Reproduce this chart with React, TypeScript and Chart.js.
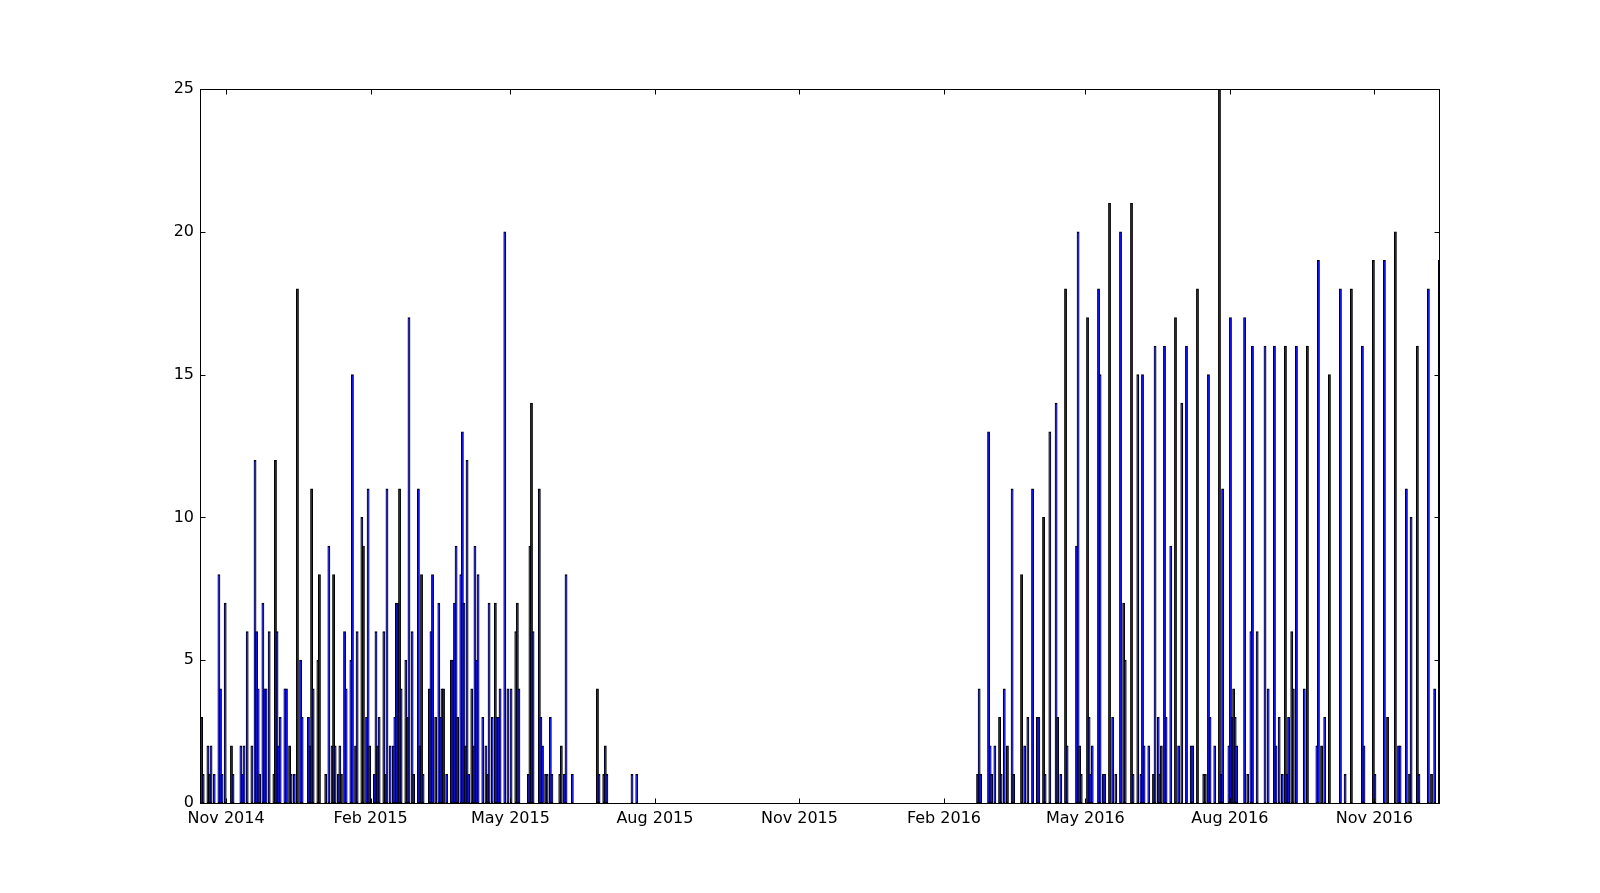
import React, { useEffect, useRef } from 'react';
import { Chart, registerables } from 'chart.js';

Chart.register(...registerables);

// Days counted from 2014-11-01 (day 0); bars are left-aligned on their day.
const days2014to2015 = [
  -16, -15, -12, -11, -10, -8, -5, -4, -3, -1, 3, 4, 9, 10, 11, 13, 16, 18, 19, 20,
  21, 23, 24, 25, 27, 30, 31, 32, 33, 34, 37, 38, 40, 41, 43, 45, 47, 48, 52, 53,
  54, 55, 58, 59, 63, 65, 67, 68, 69, 71, 72, 73, 75, 76, 79, 80, 82, 83, 86, 87,
  89, 90, 91, 94, 95, 96, 97, 100, 101, 102, 104, 106, 107, 108, 109, 110, 111, 114, 115, 116,
  118, 119, 122, 123, 124, 125, 129, 130, 131, 133, 135, 136, 137, 138, 140, 143, 144, 145, 146, 147,
  149, 150, 151, 152, 153, 154, 156, 157, 158, 159, 160, 163, 165, 166, 167, 169, 171, 172, 173, 174,
  177, 179, 181, 184, 185, 186, 192, 193, 194, 195, 199, 200, 201, 203, 204, 206, 207, 212, 213, 215,
  216, 220, 236, 237, 240, 241, 242, 258, 261,
];
const counts2014to2015 = [
  3, 1, 2, 1, 2, 1, 8, 4, 1, 7, 2, 1, 2, 1, 2, 6, 2, 12, 6, 4,
  1, 7, 4, 4, 6, 1, 12, 6, 2, 3, 4, 4, 2, 1, 1, 18, 5, 3, 3, 2,
  11, 4, 5, 8, 1, 9, 2, 8, 2, 1, 2, 1, 6, 4, 5, 15, 2, 6, 10, 9,
  3, 11, 2, 1, 6, 2, 3, 6, 1, 11, 2, 2, 3, 7, 7, 11, 4, 5, 3, 17,
  6, 1, 11, 2, 8, 1, 4, 6, 8, 3, 7, 3, 4, 4, 1, 5, 5, 7, 9, 3,
  8, 13, 7, 2, 12, 1, 4, 2, 9, 5, 8, 3, 2, 1, 7, 3, 7, 3, 3, 4,
  20, 4, 4, 6, 7, 4, 1, 9, 14, 6, 11, 3, 2, 1, 1, 3, 1, 1, 2, 1,
  8, 1, 4, 1, 1, 2, 1, 1, 1,
];

const days2016 = [
  478, 479, 480, 485, 486, 487, 489, 492, 493, 495, 497, 500, 501, 506, 508, 510, 513, 516, 517, 520,
  521, 524, 528, 529, 531, 534, 535, 541, 542, 543, 544, 548, 549, 550, 551, 555, 556, 558, 559, 562,
  564, 566, 569, 571, 572, 576, 577, 580, 582, 583, 584, 587, 590, 591, 593, 594, 595, 597, 598, 601,
  604, 606, 608, 611, 614, 615, 618, 622, 623, 625, 626, 629, 632, 633, 634, 638, 639, 640, 641, 642,
  643, 648, 650, 652, 653, 656, 661, 663, 667, 668, 670, 672, 674, 675, 676, 678, 679, 681, 686, 688,
  694, 695, 697, 699, 702, 709, 712, 716, 723, 724, 730, 731, 737, 739, 744, 746, 747, 751, 753, 754,
  758, 759, 765, 767, 769, 772,
];
const counts2016 = [
  1, 4, 1, 13, 2, 1, 2, 3, 1, 4, 2, 11, 1, 8, 2, 3, 11, 3, 3, 10,
  1, 13, 14, 3, 1, 18, 2, 9, 20, 2, 1, 17, 3, 1, 2, 18, 15, 1, 1, 21,
  3, 1, 20, 7, 5, 21, 1, 15, 1, 15, 2, 2, 1, 16, 3, 1, 2, 16, 3, 9,
  17, 2, 14, 16, 2, 2, 18, 1, 1, 15, 3, 2, 25, 1, 11, 2, 17, 3, 4, 3,
  2, 17, 1, 6, 16, 6, 16, 4, 16, 2, 3, 1, 16, 1, 3, 6, 4, 16, 4, 16,
  2, 19, 2, 3, 15, 18, 1, 18, 16, 2, 19, 1, 19, 3, 20, 2, 2, 11, 1, 10,
  16, 1, 18, 1, 4, 19,
];

const tickDays = [0, 92, 181, 273, 365, 457, 547, 639, 731];
const tickLabels = ['Nov 2014', 'Feb 2015', 'May 2015', 'Aug 2015', 'Nov 2015', 'Feb 2016', 'May 2016', 'Aug 2016', 'Nov 2016'];
const yTicks = [0, 5, 10, 15, 20, 25];

const X_MIN = -16;
const X_MAX = 772.8;
const BAR_WIDTH_DAYS = 0.8;

export default function App() {
  const ref = useRef<HTMLCanvasElement | null>(null);

  useEffect(() => {
    document.body.style.margin = '0';
    document.body.style.background = '#ffffff';
    const canvas = ref.current;
    if (!canvas) return;

    const allDays = [...days2014to2015, ...days2016];
    const allCounts = [...counts2014to2015, ...counts2016];
    const points = allDays.map((d, i) => ({ x: d + BAR_WIDTH_DAYS / 2, y: allCounts[i] }));

    const framePlugin = {
      id: 'mplFrame',
      afterDatasetsDraw(chart: any) {
        const { ctx, chartArea: a, scales } = chart;
        const L = Math.round(a.left) - 0.5;
        const R = Math.round(a.right) - 0.5;
        const T = Math.round(a.top) + 0.5;
        const B = Math.round(a.bottom) + 0.5;
        ctx.save();
        ctx.strokeStyle = '#000';
        ctx.lineWidth = 1;
        ctx.beginPath();
        const tl = 5;
        tickDays.forEach((d) => {
          const x = Math.round(scales.x.getPixelForValue(d)) + 0.5;
          ctx.moveTo(x, B);
          ctx.lineTo(x, B - tl);
          ctx.moveTo(x, T);
          ctx.lineTo(x, T + tl);
        });
        yTicks.forEach((v) => {
          const y = Math.round(scales.y.getPixelForValue(v)) + 0.5;
          ctx.moveTo(L, y);
          ctx.lineTo(L + tl, y);
          ctx.moveTo(R, y);
          ctx.lineTo(R - tl, y);
        });
        ctx.stroke();
        ctx.strokeRect(L, T, R - L, B - T);
        ctx.restore();
      },
    };

    const chart = new Chart(canvas, {
      type: 'bar',
      data: {
        datasets: [
          {
            data: points,
            backgroundColor: '#0000ff',
            borderColor: '#000000',
            borderWidth: 1,
            borderSkipped: false,
            barThickness: 2.2,
          } as any,
        ],
      },
      options: {
        animation: false,
        responsive: false,
        maintainAspectRatio: false,
        layout: { padding: { left: 0, top: 89, right: 160, bottom: 0 } },
        plugins: { legend: { display: false }, tooltip: { enabled: false } },
        scales: {
          x: {
            type: 'linear',
            min: X_MIN,
            max: X_MAX,
            offset: false,
            grid: { display: false, drawTicks: false, offset: false },
            border: { display: false },
            afterBuildTicks: (scale: any) => {
              scale.ticks = tickDays.map((v) => ({ value: v }));
            },
            afterFit: (scale: any) => {
              scale.height = 90;
            },
            ticks: {
              autoSkip: false,
              maxRotation: 0,
              padding: 6,
              color: '#000',
              font: { family: 'DejaVu Sans', size: 16 },
              callback: (v: any) => {
                const i = tickDays.indexOf(Number(v));
                return i >= 0 ? tickLabels[i] : '';
              },
            },
          },
          y: {
            type: 'linear',
            min: 0,
            max: 25,
            grid: { display: false, drawTicks: false },
            border: { display: false },
            afterBuildTicks: (scale: any) => {
              scale.ticks = yTicks.map((v) => ({ value: v }));
            },
            afterFit: (scale: any) => {
              scale.width = 201;
            },
            ticks: {
              padding: 7,
              color: '#000',
              font: { family: 'DejaVu Sans', size: 16 },
            },
          },
        },
      },
      plugins: [framePlugin],
    });

    return () => chart.destroy();
  }, []);

  return (
    <div style={{ width: 1600, height: 893, background: '#fff' }}>
      <canvas ref={ref} width={1600} height={893} style={{ display: 'block' }} />
    </div>
  );
}
